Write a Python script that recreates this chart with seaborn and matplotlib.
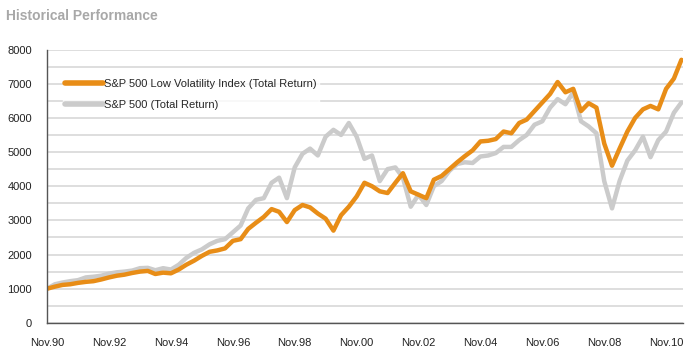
import pandas as pd
import matplotlib
matplotlib.use("Agg")
import matplotlib.pyplot as plt
import seaborn as sns

# quarterly readings from Nov 1990 to May 2011, indexed to 1000
LOW_VOL = [
    1000, 1060, 1110, 1130, 1170, 1200, 1220, 1270,
    1330, 1380, 1410, 1460, 1500, 1520, 1430, 1470,
    1450, 1560, 1700, 1820, 1960, 2080, 2120, 2180,
    2400, 2450, 2750, 2930, 3100, 3330, 3250, 2950,
    3300, 3450, 3380, 3200, 3050, 2700, 3150, 3400,
    3700, 4100, 4000, 3850, 3800, 4100, 4380, 3850,
    3750, 3650, 4190, 4300, 4500, 4700, 4880, 5050,
    5310, 5330, 5380, 5600, 5550, 5850, 5950, 6200,
    6450, 6700, 7050, 6750, 6850, 6200, 6430, 6300,
    5250, 4600, 5100, 5600, 6000, 6250, 6350, 6250,
    6850, 7150, 7700,
]
SP500 = [
    1000, 1130, 1180, 1220, 1250, 1330, 1350, 1380,
    1440, 1480, 1500, 1530, 1600, 1610, 1540, 1600,
    1560, 1700, 1900, 2050, 2150, 2300, 2400, 2450,
    2650, 2850, 3350, 3600, 3650, 4100, 4250, 3650,
    4550, 4950, 5100, 4900, 5450, 5650, 5500, 5850,
    5450, 4800, 4900, 4150, 4500, 4550, 4250, 3400,
    3750, 3450, 4000, 4150, 4450, 4650, 4700, 4680,
    4870, 4900, 4970, 5150, 5150, 5350, 5500, 5800,
    5900, 6300, 6550, 6400, 6750, 5900, 5750, 5550,
    4150, 3350, 4150, 4750, 5050, 5450, 4850, 5350,
    5600, 6150, 6450,
]
DATES = pd.date_range("1990-11-01", periods=len(LOW_VOL), freq="3MS")
TICK_YEARS = list(range(1990, 2011, 2))
TICK_LABELS = ["Nov.%02d" % (y % 100) for y in TICK_YEARS]

LABEL_LOW = "S&P 500 Low Volatility Index (Total Return)"
LABEL_SP = "S&P 500 (Total Return)"
ORANGE = "#E88D17"
GRAY = "#CBCBCB"

df = pd.DataFrame({"date": DATES, "low": LOW_VOL, "sp": SP500})

sns.set_style("white")
plt.rcParams["font.family"] = ["Liberation Sans", "DejaVu Sans"]

fig = plt.figure(figsize=(6.93, 3.54), dpi=100)
ax = fig.add_axes([0.068, 0.088, 0.917, 0.772])

# gray first so the orange sits on top
sns.lineplot(data=df, x="date", y="sp", color=GRAY, linewidth=3.2, ax=ax, label=LABEL_SP)
sns.lineplot(data=df, x="date", y="low", color=ORANGE, linewidth=3.2, ax=ax, label=LABEL_LOW)

ax.set_ylim(0, 8000)
ax.set_xlim(pd.Timestamp("1990-11-01"), pd.Timestamp("2011-05-15"))
ax.set_yticks(range(0, 8001, 1000))
ax.set_yticks(range(500, 8000, 1000), minor=True)
ax.set_xticks([pd.Timestamp("%d-11-01" % y) for y in TICK_YEARS])
ax.set_xticklabels(TICK_LABELS)
ax.xaxis.set_minor_locator(matplotlib.ticker.NullLocator())

ax.grid(True, axis="y", which="both", color="#DEDEDE", linewidth=1.4)
ax.set_axisbelow(True)
for side in ["top", "right"]:
    ax.spines[side].set_visible(False)
for side in ["left", "bottom"]:
    ax.spines[side].set_color("#555555")
    ax.spines[side].set_linewidth(1.0)
ax.tick_params(axis="both", which="major", length=4, width=1, color="#555555",
               labelsize=8, labelcolor="#222222", direction="out", pad=7)
ax.tick_params(axis="y", which="minor", length=0)
ax.set_xlabel("")
ax.set_ylabel("")

handles, labels = ax.get_legend_handles_labels()
leg = ax.legend(handles[::-1], labels[::-1], loc="upper left", bbox_to_anchor=(0.025, 0.899),
                frameon=True, fontsize=8, handlelength=3.4, handletextpad=0.1,
                labelspacing=0.95, borderpad=0.2, borderaxespad=0)
leg.get_frame().set_facecolor("white")
leg.get_frame().set_edgecolor("white")
leg.get_frame().set_boxstyle("square", pad=0)
for line in leg.get_lines():
    line.set_linewidth(4)

fig.text(0.008, 0.955, "Historical Performance", color="#A8A8A8", fontsize=10,
         fontweight="bold", va="center")

fig.savefig("out.png", dpi=100)
